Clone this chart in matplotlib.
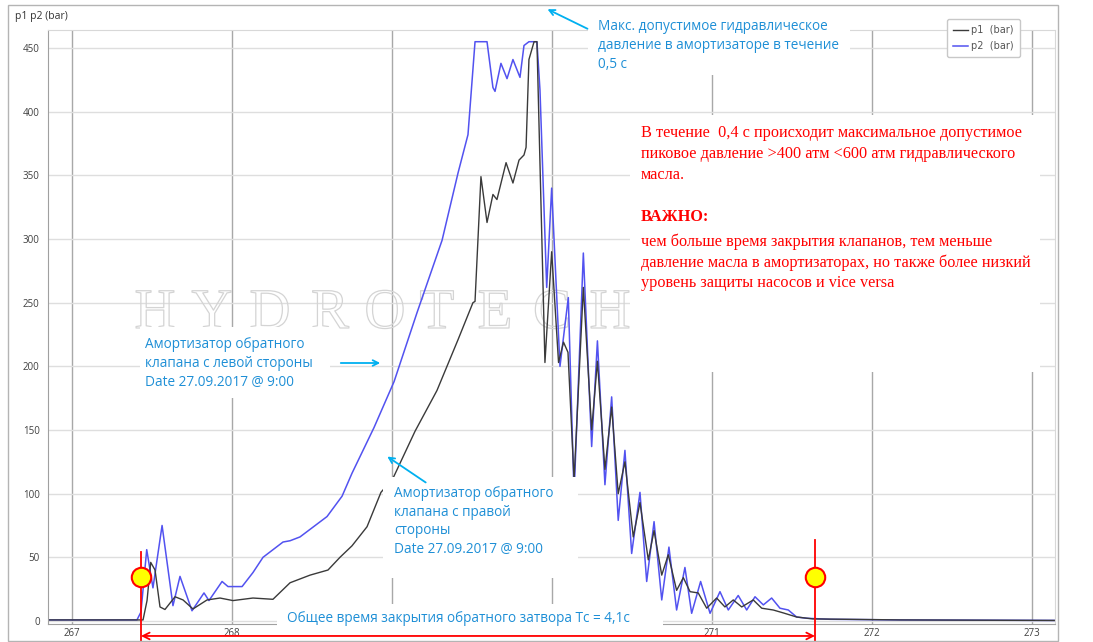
import matplotlib
matplotlib.use("Agg")
import matplotlib.pyplot as plt
import matplotlib.patheffects as pe
from matplotlib.patches import Rectangle

W, H = 1093, 642

# p2 (blue) - time [s], pressure [bar]
t2 = [266.85, 267.406, 267.431, 267.467, 267.506, 267.563, 267.631, 267.675, 267.75, 267.825,
      267.856, 267.938, 267.975, 268.063, 268.131, 268.194, 268.319, 268.363, 268.425, 268.594,
      268.688, 268.75, 268.888, 269.013, 269.156, 269.313, 269.413, 269.475, 269.519, 269.594,
      269.631, 269.644, 269.681, 269.719, 269.756, 269.8, 269.825, 269.856, 269.906, 269.925,
      269.967, 269.998, 270.05, 270.102, 270.138, 270.196, 270.248, 270.284, 270.331, 270.373,
      270.414, 270.456, 270.498, 270.55, 270.592, 270.638, 270.686, 270.731, 270.779, 270.831,
      270.873, 270.929, 270.988, 271.05, 271.102, 271.164, 271.217, 271.269, 271.321, 271.373,
      271.425, 271.477, 271.529, 271.592, 271.738, 272.175, 273.144]
p2 = [0.8, 0.8, 7, 56, 26, 75, 12, 35, 8, 22,
      16, 31, 27, 27, 38, 50, 62, 63, 66, 82,
      98, 116, 152, 188, 242, 299, 352, 382, 455, 455,
      419, 416, 438, 426, 441, 427, 452, 455, 455, 417,
      262, 340, 200, 254, 99, 289, 137, 220, 107, 176,
      79, 134, 53, 101, 31, 78, 16.5, 58, 8.6, 42,
      6, 31, 6, 23, 8.6, 20, 8.6, 19, 12.6, 18,
      10, 8.6, 3.1, 2.1, 1.3, 0.8, 0.4]

# p1 (black)
t1 = [266.85, 267.444, 267.469, 267.492, 267.519, 267.55, 267.581, 267.644, 267.694, 267.756,
      267.844, 267.925, 268.006, 268.131, 268.256, 268.363, 268.488, 268.6, 268.675, 268.75,
      268.844, 268.931, 269.006, 269.144, 269.281, 269.413, 269.506, 269.519, 269.556, 269.594,
      269.631, 269.656, 269.713, 269.756, 269.794, 269.825, 269.838, 269.856, 269.888, 269.906,
      269.956, 269.998, 270.041, 270.072, 270.1, 270.138, 270.196, 270.248, 270.284, 270.331,
      270.373, 270.414, 270.456, 270.508, 270.55, 270.602, 270.638, 270.686, 270.727, 270.779,
      270.821, 270.863, 270.914, 270.967, 271.029, 271.081, 271.133, 271.186, 271.258, 271.311,
      271.383, 271.446, 271.529, 271.631, 272.175, 273.144]
p1 = [0.8, 0.8, 16, 46, 40, 11, 9, 19, 16.5, 9.4,
      16.5, 18, 16, 18, 17, 30, 36, 40, 50, 59,
      74, 101, 112, 149, 181, 221, 250, 251, 349, 313,
      335, 331, 360, 344, 362, 366, 372, 441, 455, 455,
      203, 290, 203, 219, 211, 111, 262, 150, 204, 119,
      168, 100, 125, 66, 93, 48, 71, 36, 52, 24,
      34, 23, 22, 10, 18, 11, 16.5, 11, 16.5, 10,
      8.6, 6.3, 3.1, 1.6, 0.8, 0.4]

# closure start / end (Tc)
t_close = [267.431, 271.644]
x_ticks = [267, 268, 269, 270, 271, 272, 273]
y_ticks = [0, 50, 100, 150, 200, 250, 300, 350, 400, 450]

sans = ['Open Sans', 'DejaVu Sans']
serif = ['Liberation Serif', 'DejaVu Serif']
cyan = '#00b0f0'
tblue = '#1e8fd6'


def fx(x):
    return x / W


def fy(y):
    return 1 - y / H


fig = plt.figure(figsize=(W / 100, H / 100), dpi=100)
ax = fig.add_axes([fx(48), fy(624), (1055 - 48) / W, (624 - 30) / H])

ax.set_axisbelow(True)
ax.plot(t2, p2, color='#5252f0', lw=1.1, label='p2  (bar)', zorder=2)
ax.plot(t1, p1, color='#3a3a3a', lw=1.0, label='p1  (bar)', zorder=2.1)

ax.set_xlim(266.85, 273.144)
ax.set_ylim(-2.4, 464.2)
ax.set_xticks(x_ticks)
ax.set_yticks(y_ticks)
ax.tick_params(length=0, labelsize=7, labelcolor='#404040')
ax.tick_params(axis='x', pad=3)
ax.tick_params(axis='y', pad=6)
for lab in ax.get_xticklabels() + ax.get_yticklabels():
    lab.set_family(sans)
ax.xaxis.grid(True, color='#a8a8a8', lw=1)
ax.yaxis.grid(True, color='#dedede', lw=1)
for s in ['left', 'bottom']:
    ax.spines[s].set_color('#a0a0a0')
for s in ['top', 'right']:
    ax.spines[s].set_color('#d8d8d8')

# legend (p1 first)
h, l = ax.get_legend_handles_labels()
leg = ax.legend(h[::-1], l[::-1], loc='upper left', bbox_to_anchor=(fx(942), fy(14)),
                bbox_transform=fig.transFigure, fontsize=7, handlelength=1.5,
                handletextpad=0.35, borderpad=0.65, labelspacing=0.6, frameon=True,
                fancybox=True, framealpha=1, edgecolor='#c8c8c8', labelcolor='#555555')
leg.set_zorder(6)

# watermark
for ch, xc in zip('HYDROTECH', [155, 212, 270, 330, 385, 437, 495, 552, 610]):
    ax.text(fx(xc), fy(314), ch, transform=fig.transFigure, ha='center', va='center',
            fontsize=41, family=serif, color='none', zorder=1,
            path_effects=[pe.Stroke(linewidth=0.9, foreground='#d4d4d4')])


def cover(x0, y0, x1, y1):
    ax.add_patch(Rectangle((fx(x0), fy(y1)), (x1 - x0) / W, (y1 - y0) / H,
                           transform=fig.transFigure, fc='white', ec='none',
                           zorder=3, clip_on=False))


def txt(x, y, s, **kw):
    return ax.text(fx(x), fy(y), s, transform=fig.transFigure, clip_on=False, zorder=4, **kw)


cover(588, 12, 850, 75)
cover(630, 115, 1040, 372)
cover(140, 327, 330, 398)
cover(383, 477, 578, 578)
cover(277, 604, 663, 641)

txt(598, 45.5, 'Макс. допустимое гидравлическое\nдавление в амортизаторе в течение\n0,5 с',
    ha='left', va='center', fontsize=9.8, family=sans, color=tblue, linespacing=1.32)
txt(145, 363.5, 'Амортизатор обратного\nклапана с левой стороны\nDate 27.09.2017 @ 9:00',
    ha='left', va='center', fontsize=9.8, family=sans, color=tblue, linespacing=1.32)
txt(394, 521.5, 'Амортизатор обратного\nклапана с правой\nстороны\nDate 27.09.2017 @ 9:00',
    ha='left', va='center', fontsize=9.8, family=sans, color=tblue, linespacing=1.32)
txt(287, 618, 'Общее время закрытия обратного затвора Тс = 4,1с',
    ha='left', va='center', fontsize=9.8, family=sans, color=tblue)

txt(641, 154, 'В течение  0,4 с происходит максимальное допустимое\n'
    'пиковое давление >400 атм <600 атм гидравлического\nмасла.',
    ha='left', va='center', fontsize=11.7, family=serif, color='red', linespacing=1.38)
txt(641, 217, 'ВАЖНО:', ha='left', va='center', fontsize=11.7, family=serif,
    color='red', weight='bold')
txt(641, 262, 'чем больше время закрытия клапанов, тем меньше\n'
    'давление масла в амортизаторах, но также более низкий\n'
    'уровень защиты насосов и vice versa',
    ha='left', va='center', fontsize=11.7, family=serif, color='red', linespacing=1.35)

fig.text(fx(15), fy(17), 'p1 p2 (bar)', ha='left', va='center', fontsize=7.5,
         color='#333333', family=sans)

# blue pointer arrows
for start, end in [((590, 30), (545, 8)), ((338, 363), (383, 363)), ((428, 484), (385, 455))]:
    ax.annotate('', xy=(fx(end[0]), fy(end[1])), xytext=(fx(start[0]), fy(start[1])),
                xycoords='figure fraction', textcoords='figure fraction',
                arrowprops=dict(arrowstyle='->', color=cyan, lw=1.3),
                annotation_clip=False, zorder=4)

# closure time markers
ax.plot([t_close[0], t_close[0]], [54, -16.5], color='red', lw=1.3, clip_on=False, zorder=5)
ax.plot([t_close[1], t_close[1]], [63.6, -16.5], color='red', lw=1.3, clip_on=False, zorder=5)
ax.annotate('', xy=(t_close[0], -11.8), xytext=(t_close[1], -11.8),
            arrowprops=dict(arrowstyle='<->', color='red', lw=1.3,
                            shrinkA=0, shrinkB=0, mutation_scale=12),
            annotation_clip=False, zorder=5)
ax.plot(t_close, [34.5, 34.5], 'o', ms=14, mfc='yellow', mec='red', mew=1.5,
        clip_on=False, zorder=5.5)

# outer frame
fig.add_artist(Rectangle((fx(8), fy(641)), (1058 - 8) / W, (641 - 5) / H,
                         transform=fig.transFigure, fc='none', ec='#b4b4b4', lw=1))

fig.savefig('out.png', dpi=100)
